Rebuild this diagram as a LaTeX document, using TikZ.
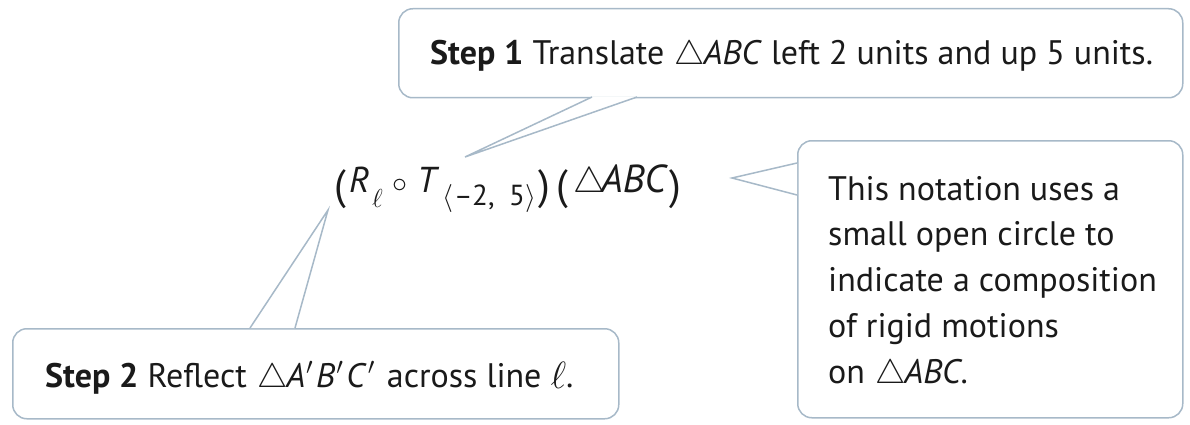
\RequirePackage{fix-cm}
\documentclass[tikz,border=0pt]{standalone}
\usepackage{fontspec}
\setmainfont{PT Sans}
\newcommand{\tri}{\kern1pt$\bigtriangleup$\kern-1pt}
\newcommand{\prm}{\kern1pt$'$\kern3pt}
% place content at horizontal offset #1 (pt) from the start of the line
\newcommand{\putat}[2]{\rlap{\hspace*{#1pt}#2}}
\begin{document}
\begin{tikzpicture}[x=1pt,y=-1pt,
  callout/.style={draw=calloutline, line width=1.5pt, rounded corners=14pt, fill=white, inner sep=0pt, anchor=north west},
  pointer/.style={draw=calloutline, line width=1.5pt, line join=miter},
  txt/.style={inner sep=0pt, anchor=base west, text=textcol, font=\fontsize{34}{45.7}\selectfont}]
\definecolor{calloutline}{HTML}{A7B9C8}
\definecolor{textcol}{HTML}{1A1A1A}
\useasboundingbox (0,0) rectangle (1190,425);
% boxes
\node[callout, minimum width=784pt, minimum height=89pt] (b1) at (398,8) {};
\node[callout, minimum width=385pt, minimum height=277pt] (b3) at (797,140) {};
\node[callout, minimum width=606pt, minimum height=90pt] (b2) at (12,328) {};
% pointer tips and bases
\coordinate (t1) at (465,157);
\coordinate (p1a) at (592,97);
\coordinate (p1b) at (637,97);
\coordinate (t3) at (732,178);
\coordinate (p3a) at (797,163);
\coordinate (p3b) at (797,195);
\coordinate (t2) at (328,210);
\coordinate (p2a) at (250,328);
\coordinate (p2b) at (295,328);
\fill[white] (p1a) -- (t1) -- (p1b) -- cycle;
\fill[white] (p3a) -- (t3) -- (p3b) -- cycle;
\fill[white] (p2a) -- (t2) -- (p2b) -- cycle;
\draw[pointer] (p1a) -- (t1) -- (p1b);
\draw[pointer] (p3a) -- (t3) -- (p3b);
\draw[pointer] (p2a) -- (t2) -- (p2b);
% texts
\node[txt] (s1) at (430,65) {\textbf{Step 1} Translate \tri\textit{ABC} left 2 units and up 5 units.};
\node[txt] (s2) at (45,387) {\textbf{Step 2} Reflect \tri\textit{A}\prm\textit{B}\prm\textit{C}\prm{} across line \raisebox{-1pt}{\fontsize{38}{38}\selectfont$\ell$}.};
\node[txt, font=\fontsize{36}{40}\selectfont] (f) at (335,192) {%
\putat{-1}{\raisebox{-7pt}{\fontsize{42}{42}\selectfont(}}%
\putat{14}{\textit{R}}%
\putat{37}{\raisebox{-15pt}{\fontsize{26}{26}\selectfont$\ell$}}%
\putat{57}{\fontsize{30}{30}\selectfont$\circ$}%
\putat{82}{\textit{T}}%
\putat{107}{\raisebox{-13pt}{\fontsize{28}{28}\selectfont$\langle$}}%
\putat{119}{\raisebox{-13pt}{\fontsize{28}{28}\selectfont–}}%
\putat{137}{\raisebox{-13pt}{\fontsize{29}{29}\selectfont 2}}%
\putat{153}{\raisebox{-13pt}{\fontsize{29}{29}\selectfont ,}}%
\putat{174}{\raisebox{-13pt}{\fontsize{29}{29}\selectfont 5}}%
\putat{190}{\raisebox{-13pt}{\fontsize{28}{28}\selectfont$\rangle$}}%
\putat{203}{\raisebox{-7pt}{\fontsize{42}{42}\selectfont)}}%
\putat{221}{\raisebox{-7pt}{\fontsize{42}{42}\selectfont(}}%
\putat{237}{\tri}%
\putat{266}{\fontsize{39}{40}\selectfont\textit{ABC}}%
\putat{334}{\raisebox{-7pt}{\fontsize{42}{42}\selectfont)}}%
\hspace*{357pt}};
\node[txt, align=left] (n) at (828,383) {This notation uses a\\small open circle to\\indicate a composition\\of rigid motions\\on \tri\textit{ABC}.};
\end{tikzpicture}
\end{document}
